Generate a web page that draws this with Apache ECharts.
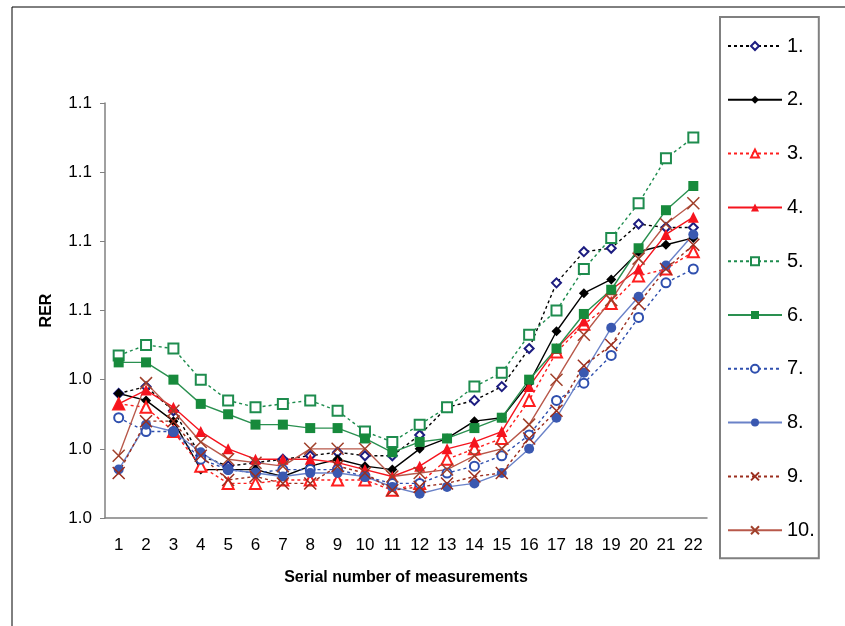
<!DOCTYPE html>
<html>
<head>
<meta charset="utf-8">
<script src="https://cdn.jsdelivr.net/npm/echarts@6/dist/echarts.min.js"></script>
<style>
html,body{margin:0;padding:0;background:#fff;}
#chart{width:845px;height:626px;}
</style>
</head>
<body>
<div id="chart"></div>
<script>
var categories = ['1','2','3','4','5','6','7','8','9','10','11','12','13','14','15','16','17','18','19','20','21','22'];
var yTicks = [1.00, 1.12, 0.02]; // min, max, step
var names = ['1.','2.','3.','4.','5.','6.','7.','8.','9.','10.'];

var s1  = [1.036,1.038,1.031,1.018,1.015,1.016,1.017,1.018,1.019,1.018,1.018,1.024,1.032,1.034,1.038,1.049,1.068,1.077,1.078,1.085,1.084,1.084];
var s2  = [1.036,1.034,1.028,1.014,1.014,1.014,1.012,1.015,1.017,1.015,1.014,1.020,1.023,1.028,1.029,1.039,1.054,1.065,1.069,1.077,1.079,1.081];
var s3  = [1.033,1.032,1.025,1.015,1.010,1.010,1.011,1.011,1.011,1.011,1.008,1.010,1.017,1.020,1.023,1.034,1.048,1.056,1.062,1.070,1.072,1.077];
var s4  = [1.033,1.037,1.032,1.025,1.020,1.017,1.017,1.017,1.016,1.014,1.012,1.015,1.020,1.022,1.025,1.038,1.049,1.057,1.066,1.072,1.082,1.087];
var s5  = [1.047,1.050,1.049,1.040,1.034,1.032,1.033,1.034,1.031,1.025,1.022,1.027,1.032,1.038,1.042,1.053,1.060,1.072,1.081,1.091,1.104,1.110];
var s6  = [1.045,1.045,1.040,1.033,1.030,1.027,1.027,1.026,1.026,1.023,1.019,1.022,1.023,1.026,1.029,1.040,1.049,1.059,1.066,1.078,1.089,1.096];
var s7  = [1.029,1.025,1.025,1.017,1.014,1.013,1.014,1.014,1.014,1.012,1.010,1.010,1.013,1.015,1.018,1.024,1.034,1.039,1.047,1.058,1.068,1.072];
var s8  = [1.014,1.027,1.025,1.019,1.014,1.013,1.012,1.013,1.013,1.012,1.009,1.007,1.009,1.010,1.013,1.020,1.029,1.042,1.055,1.064,1.073,1.082];
var s9  = [1.013,1.028,1.028,1.018,1.011,1.012,1.010,1.010,1.015,1.013,1.008,1.009,1.010,1.012,1.013,1.023,1.031,1.044,1.050,1.062,1.072,1.079];
var s10 = [1.018,1.039,1.031,1.022,1.017,1.016,1.015,1.020,1.020,1.020,1.012,1.013,1.014,1.018,1.020,1.027,1.040,1.053,1.063,1.075,1.085,1.091];

var cross = 'path://M0,0L10,10M10,0L0,10';
var font = 'Arial, "Liberation Sans", sans-serif';

// name, data, line colour, marker colour, dotted?, symbol, size
function mk(name, data, lc, mc, dotted, sym, size) {
    var s = {
        name: name,
        type: 'line',
        data: data,
        symbol: sym,
        symbolSize: size,
        lineStyle: {color: lc, width: 1.4, type: dotted ? [3, 3] : 'solid'},
        itemStyle: {color: mc}
    };
    if (sym == cross) {
        s.itemStyle = {color: 'rgba(0,0,0,0)', borderColor: mc, borderWidth: 1.5};
    }
    return s;
}

var myChart = echarts.init(document.getElementById('chart'), null, {renderer: 'canvas'});
var option = {
    animation: false,
    backgroundColor: '#fff',
    graphic: [
        {type: 'rect', shape: {x: 12, y: 7, width: 850, height: 640}, style: {fill: 'none', stroke: '#000', lineWidth: 1}, z: 0}
    ],
    legend: {
        orient: 'vertical',
        left: 720,
        top: 17,
        itemWidth: 54,
        itemHeight: 10,
        itemGap: 33.8,
        padding: [19, 4, 18, 7],
        borderColor: '#808080',
        borderWidth: 2,
        textStyle: {fontSize: 20, color: '#000', fontFamily: font},
        data: names
    },
    grid: {
        left: 105,
        right: 138,
        top: 103,
        bottom: 108
    },
    xAxis: {
        type: 'category',
        data: categories,
        name: 'Serial number of measurements',
        nameLocation: 'middle',
        nameGap: 52,
        nameTextStyle: {fontSize: 16, fontWeight: 'bold', color: '#000', fontFamily: font},
        axisLine: {lineStyle: {color: '#808080', width: 1.5}},
        axisTick: {length: 5, lineStyle: {color: '#808080'}},
        axisLabel: {fontSize: 17, color: '#000', margin: 19, interval: 0, fontFamily: font}
    },
    yAxis: {
        type: 'value',
        min: yTicks[0],
        max: yTicks[1],
        interval: yTicks[2],
        name: 'RER',
        nameLocation: 'middle',
        nameRotate: 90,
        nameGap: 50,
        nameTextStyle: {fontSize: 16, fontWeight: 'bold', color: '#000', fontFamily: font},
        axisLine: {show: true, lineStyle: {color: '#808080', width: 1.5}},
        axisTick: {show: true, length: 5, lineStyle: {color: '#808080'}},
        splitLine: {show: false},
        axisLabel: {fontSize: 17, color: '#000', margin: 13, fontFamily: font,
            formatter: function (v) { return v.toFixed(1); }}
    },
    series: [
        mk(names[0], s1, '#000000', '#1c1c80', true, 'emptyDiamond', 9),
        mk(names[1], s2, '#000000', '#000000', false, 'diamond', 10),
        mk(names[2], s3, '#ff1e1e', '#ff1e1e', true, 'emptyTriangle', 11),
        mk(names[3], s4, '#f5141e', '#f5141e', false, 'triangle', 11),
        mk(names[4], s5, '#1e8c4e', '#1e8c4e', true, 'emptyRect', 10),
        mk(names[5], s6, '#2a9050', '#178a3c', false, 'rect', 10),
        mk(names[6], s7, '#2f4fae', '#2f4fae', true, 'emptyCircle', 9),
        mk(names[7], s8, '#6a82c8', '#3a58b0', false, 'circle', 10),
        mk(names[8], s9, '#9b2e1e', '#9b2e1e', true, cross, 12),
        mk(names[9], s10, '#b8584a', '#a0402a', false, cross, 12)
    ]
};
myChart.setOption(option, true);
</script>
</body>
</html>
